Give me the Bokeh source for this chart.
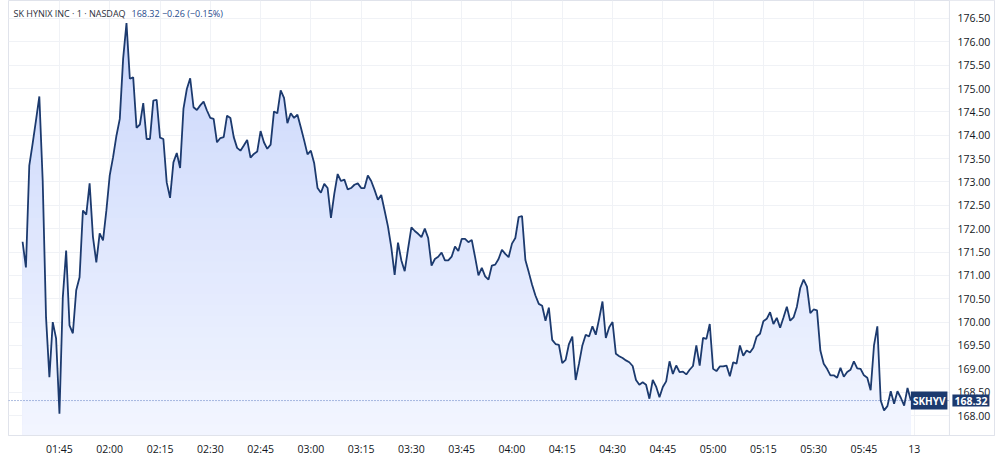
import numpy as np
from bokeh.plotting import figure
from bokeh.models import FixedTicker, NumeralTickFormatter, Label, Span, Range1d, BoxAnnotation
from bokeh.embed import file_html
from bokeh.resources import INLINE

# ---------------- data ----------------
start_minute = 94  # 01:34, one price per minute
prices = [
    171.72, 171.17, 173.35, 173.82, 174.32, 174.83, 173.03, 170.10, 168.82, 170.00,
    169.65, 168.04, 170.53, 171.53, 169.93, 169.76, 170.68, 170.96, 172.39, 172.30,
    172.97, 171.82, 171.28, 171.90, 171.75, 172.39, 173.14, 173.53, 173.99, 174.35,
    175.64, 176.40, 175.21, 175.24, 174.16, 174.23, 174.69, 173.92, 173.92, 174.74,
    174.76, 173.95, 173.92, 172.99, 172.66, 173.42, 173.62, 173.30, 174.57, 174.99,
    175.22, 174.60, 174.54, 174.64, 174.72, 174.53, 174.37, 174.35, 173.85, 173.94,
    173.96, 174.42, 174.37, 173.96, 173.73, 173.67, 173.78, 173.90, 173.52, 173.60,
    173.65, 174.09, 173.85, 173.71, 173.80, 174.51, 174.47, 174.96, 174.80, 174.26,
    174.47, 174.37, 174.44, 174.17, 173.89, 173.59, 173.67, 173.40, 172.87, 172.77,
    172.96, 172.87, 172.23, 172.75, 173.17, 173.02, 173.05, 172.84, 172.87, 172.94,
    172.97, 172.87, 172.87, 173.14, 173.02, 172.83, 172.62, 172.72, 172.39, 172.05,
    171.60, 171.01, 171.70, 171.32, 171.09, 171.57, 172.03, 171.95, 171.89, 171.82,
    172.00, 171.80, 171.21, 171.35, 171.40, 171.49, 171.32, 171.32, 171.40, 171.62,
    171.52, 171.78, 171.78, 171.71, 171.76, 171.39, 171.00, 171.16, 170.98, 170.91,
    171.21, 171.23, 171.35, 171.55, 171.46, 171.39, 171.68, 171.80, 172.25, 172.27,
    171.33, 171.07, 170.80, 170.57, 170.39, 170.35, 170.03, 170.31, 169.62, 169.53,
    169.51, 169.12, 169.19, 169.53, 169.69, 168.76, 169.11, 169.50, 169.73, 169.69,
    169.91, 169.73, 170.07, 170.44, 169.66, 169.89, 170.00, 169.32, 169.27, 169.23,
    169.18, 169.14, 169.06, 168.76, 168.66, 168.71, 168.66, 168.36, 168.76, 168.62,
    168.39, 168.61, 168.73, 169.16, 168.89, 169.07, 168.93, 168.94, 168.88, 168.98,
    169.06, 169.50, 169.07, 169.66, 169.64, 169.96, 169.00, 168.95, 169.05, 169.05,
    169.07, 168.84, 169.14, 169.11, 169.50, 169.28, 169.39, 169.35, 169.45, 169.69,
    169.75, 170.02, 170.07, 170.21, 169.96, 170.09, 169.88, 170.10, 170.33, 170.03,
    170.10, 170.33, 170.73, 170.91, 170.76, 170.19, 170.27, 170.25, 169.39, 169.11,
    169.00, 168.86, 168.86, 168.81, 169.02, 168.83, 168.93, 168.98, 169.16, 169.01,
    169.00, 168.86, 168.81, 168.54, 169.50, 169.91, 168.32, 168.11, 168.20, 168.52,
    168.25, 168.52, 168.38, 168.21, 168.59, 168.32,
]
minutes = list(range(start_minute, start_minute + len(prices)))

x_ticks = [105, 120, 135, 150, 165, 180, 195, 210, 225, 240, 255, 270, 285, 300, 315, 330, 345, 360]
x_tick_labels = ["01:45", "02:00", "02:15", "02:30", "02:45", "03:00", "03:15", "03:30", "03:45",
                 "04:00", "04:15", "04:30", "04:45", "05:00", "05:15", "05:30", "05:45", "13"]
y_ticks = [168.0, 168.5, 169.0, 169.5, 170.0, 170.5, 171.0, 171.5, 172.0, 172.5,
           173.0, 173.5, 174.0, 174.5, 175.0, 175.5, 176.0, 176.5]

last_price = 168.32
symbol = "SKHYV"
title_main = "SK HYNIX INC \u00b7 1 \u00b7 NASDAQ"
title_quote = "168.32  \u22120.26 (\u22120.15%)"

# ---------------- figure ----------------
x0 = 89.8          # left edge of the pane
x_div = 370.5      # divider between the pane and the price scale
x1 = 383.95        # right edge (price-scale area is inside the frame)
y0, y1 = 167.572, 176.885
FONT = "Open Sans"
NAVY = "#1c3a6e"
GRID = "#f0f2f6"
BORDER = "#e0e3eb"

p = figure(
    output_backend="svg", toolbar_location=None,
    frame_width=986, frame_height=435,
    min_border_left=8, min_border_right=6, min_border_top=0, min_border_bottom=22,
    x_range=Range1d(x0, x1), y_range=Range1d(y0, y1),
    y_axis_location="right",
)
p.background_fill_color = "white"
p.border_fill_color = "white"
p.outline_line_color = BORDER

p.xgrid.ticker = FixedTicker(ticks=x_ticks)
p.ygrid.ticker = FixedTicker(ticks=y_ticks)
p.xgrid.grid_line_color = GRID
p.ygrid.grid_line_color = GRID

# blank price-scale area (covers the grid there)
p.add_layout(BoxAnnotation(left=x_div, fill_color="white", fill_alpha=1,
                           line_color=None, level="underlay"))
p.add_layout(Span(location=x_div, dimension="height", line_color=BORDER, line_width=1))

# gradient fill under the line (drawn top colour first, lighter bands below)
pr = np.array(prices)
top_c = np.array([200, 213, 251])
bot_c = np.array([243, 246, 255])
n_bands = 40
levels = np.linspace(y0, y1, n_bands + 1)
for k in range(n_bands, 0, -1):
    hi = levels[k]
    frac = (hi - y0) / (y1 - y0)
    c = bot_c + (top_c - bot_c) * frac
    col = "#%02x%02x%02x" % tuple(int(round(v)) for v in c)
    p.varea(x=minutes, y1=np.full(len(pr), y0), y2=np.minimum(pr, hi), fill_color=col)

# dotted last-price line across the pane
p.segment(x0=[x0], y0=[last_price], x1=[x_div], y1=[last_price],
          line_color="#5b7bc0", line_dash="1 2", line_width=1)

p.line(minutes, prices, line_color=NAVY, line_width=1.8)

# axes
p.xaxis.ticker = FixedTicker(ticks=x_ticks)
p.xaxis.major_label_overrides = {t: l for t, l in zip(x_ticks, x_tick_labels)}
p.yaxis.ticker = FixedTicker(ticks=y_ticks)
p.yaxis.formatter = NumeralTickFormatter(format="0.00")
for ax in (p.xaxis[0], p.yaxis[0]):
    ax.axis_line_color = BORDER
    ax.major_tick_line_color = None
    ax.minor_tick_line_color = None
    ax.major_tick_out = 0
    ax.major_tick_in = 0
    ax.major_label_text_font = FONT
    ax.major_label_text_font_size = "10.5px"
    ax.major_label_text_color = "#131722"
p.xaxis.major_label_standoff = 6
p.yaxis.major_label_standoff = -37

# title texts
p.add_layout(Label(x=x0, y=y1, x_offset=5, y_offset=-13, text=title_main,
                   text_font=FONT, text_font_size="9px", text_color="#2a2e39",
                   text_baseline="middle", text_align="left"))
p.add_layout(Label(x=x0, y=y1, x_offset=123, y_offset=-13, text=title_quote,
                   text_font=FONT, text_font_size="9px", text_color="#1f4a8c",
                   text_baseline="middle", text_align="left"))

# last price tags
p.add_layout(Label(x=x_div, y=last_price, x_offset=-2, text=symbol,
                   text_font=FONT, text_font_size="10px", text_font_style="bold",
                   text_color="white", text_baseline="middle", text_align="right",
                   background_fill_color=NAVY, padding=2))
p.add_layout(Label(x=x_div, y=last_price, x_offset=3, text="%.2f" % last_price,
                   text_font=FONT, text_font_size="10.5px", text_font_style="bold",
                   text_color="white", text_baseline="middle", text_align="left",
                   background_fill_color=NAVY, padding=2))

open("out.html", "w").write(file_html(p, INLINE))
